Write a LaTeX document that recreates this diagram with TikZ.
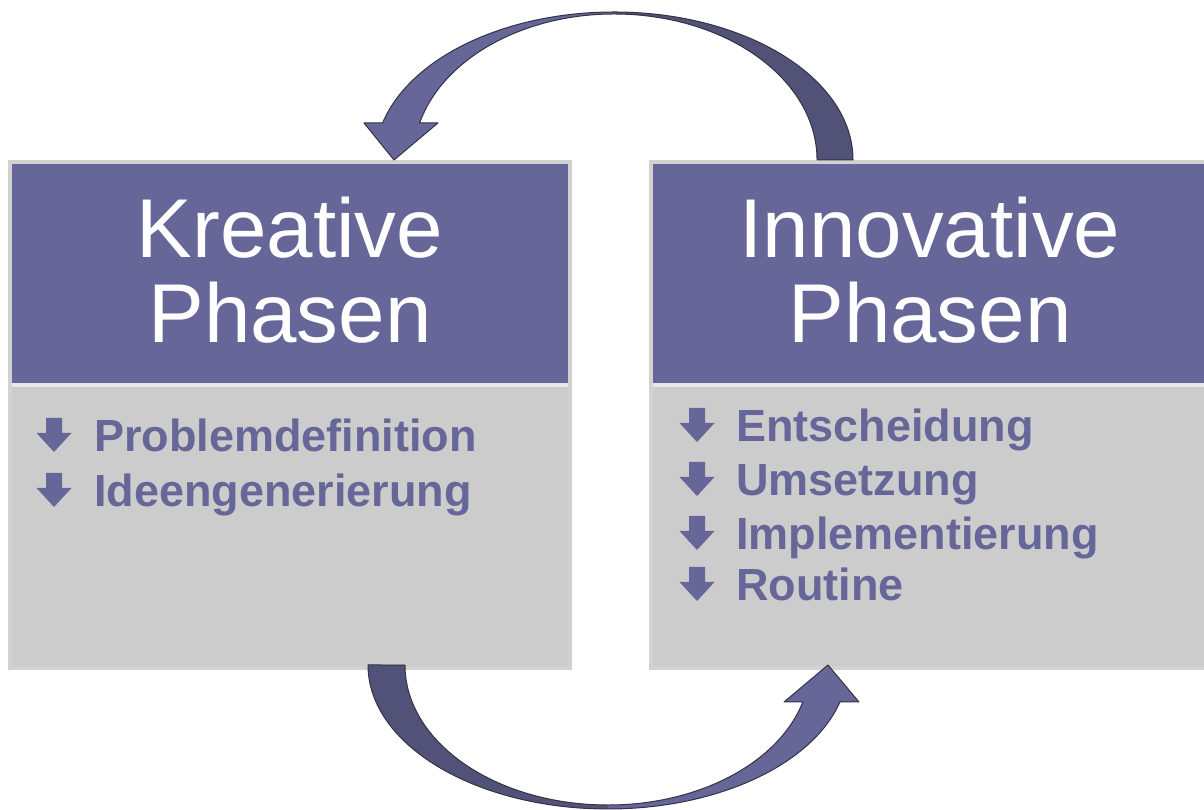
\documentclass[tikz,border=0pt]{standalone}
\usepackage{fontspec}
\setmainfont{Liberation Sans}
\definecolor{phase}{HTML}{666699}
\definecolor{phasedark}{HTML}{525278}
\definecolor{bodygrey}{HTML}{CCCCCC}
\definecolor{framegrey}{HTML}{D2D2D2}
\definecolor{seplight}{HTML}{E8E8E8}
\definecolor{rim}{HTML}{333344}
\begin{document}
\begin{tikzpicture}[x=1pt,y=1pt,
  phasebox/.style={draw=framegrey, line width=4pt, fill=bodygrey, minimum width=560pt,
    minimum height=506pt, inner sep=0, outer sep=0, anchor=south west},
  title/.style={text=white, font=\fontsize{83.5}{85}\selectfont, inner sep=0, anchor=base},
  item/.style={text=phase, font=\fontsize{45}{50}\selectfont\bfseries, inner sep=0, anchor=base west},
  bullet/.pic={\fill[phase] (0,0) -- (-17.5,19) -- (-8,19) -- (-8,34) -- (8,34) -- (8,19) -- (17.5,19) -- cycle;},
  rimline/.style={draw=rim, line width=1pt, line join=round}]
\useasboundingbox (0,0) rectangle (1204,810);
\clip (0,0) rectangle (1204,810);

% --- the two phase boxes ---
\node[phasebox] (kreativ) at (10,142) {};
\node[phasebox] (innov) at (651,142) {};
\fill[phase] (12,427) rectangle (568,646);
\fill[seplight] (12,423) rectangle (568,427);
\fill[phase] (653,427) rectangle (1209,646);
\fill[seplight] (653,423) rectangle (1209,427);

% titles
\node[title] (k1) at (290,552) {Kreative};
\node[title] (k2) at (290,467) {Phasen};
\node[title] (i1) at (930,552) {Innovative};
\node[title] (i2) at (930,467) {Phasen};

% bullet lists
\pic at (54,358) {bullet};
\node[item] (p1) at (94,358) {Problemdefinition};
\pic at (54,303) {bullet};
\node[item] (p2) at (94,303) {Ideengenerierung};

\pic at (697,368) {bullet};
\node[item] (q1) at (736,368) {Entscheidung};
\pic at (697,314) {bullet};
\node[item] (q2) at (736,314) {Umsetzung};
\pic at (697,260) {bullet};
\node[item] (q3) at (736,260) {Implementierung};
\pic at (697,209) {bullet};
\node[item] (q4) at (736,209) {Routine};

% --- curved arrow on top: from the innovative box back to the creative box ---
\fill[phasedark] (853,650) arc[start angle=0,end angle=90,x radius=239,y radius=148]
  -- (614,796) arc[start angle=90,end angle=0,x radius=203,y radius=146] -- cycle;
\fill[phase] (614,798) arc[start angle=90,end angle=165.52,x radius=239,y radius=148]
  -- (364,687) -- (394,650) -- (438,687) -- (419.6,687)
  arc[start angle=165.32,end angle=90,x radius=201,y radius=146] -- cycle;
\draw[rimline] (853,650) arc[start angle=0,end angle=165.52,x radius=239,y radius=148]
  -- (364,687) -- (394,650) -- (438,687) -- (419.6,687)
  arc[start angle=165.32,end angle=90,x radius=201,y radius=146]
  arc[start angle=90,end angle=0,x radius=203,y radius=146] -- cycle;

% --- curved arrow at the bottom: from the creative box to the innovative box ---
\fill[phasedark] (368,145) arc[start angle=180,end angle=270,x radius=240,y radius=144]
  -- (608,5) arc[start angle=270,end angle=180,x radius=203,y radius=140] -- cycle;
\fill[phase] (608,1) arc[start angle=270,end angle=345.11,x radius=240,y radius=144]
  -- (859,108) -- (828,145) -- (784,108) -- (802.8,108)
  arc[start angle=344.68,end angle=270,x radius=202,y radius=140] -- cycle;
\draw[rimline] (368,145) arc[start angle=180,end angle=345.11,x radius=240,y radius=144]
  -- (859,108) -- (828,145) -- (784,108) -- (802.8,108)
  arc[start angle=344.68,end angle=270,x radius=202,y radius=140]
  arc[start angle=270,end angle=180,x radius=203,y radius=140] -- cycle;
\end{tikzpicture}
\end{document}
